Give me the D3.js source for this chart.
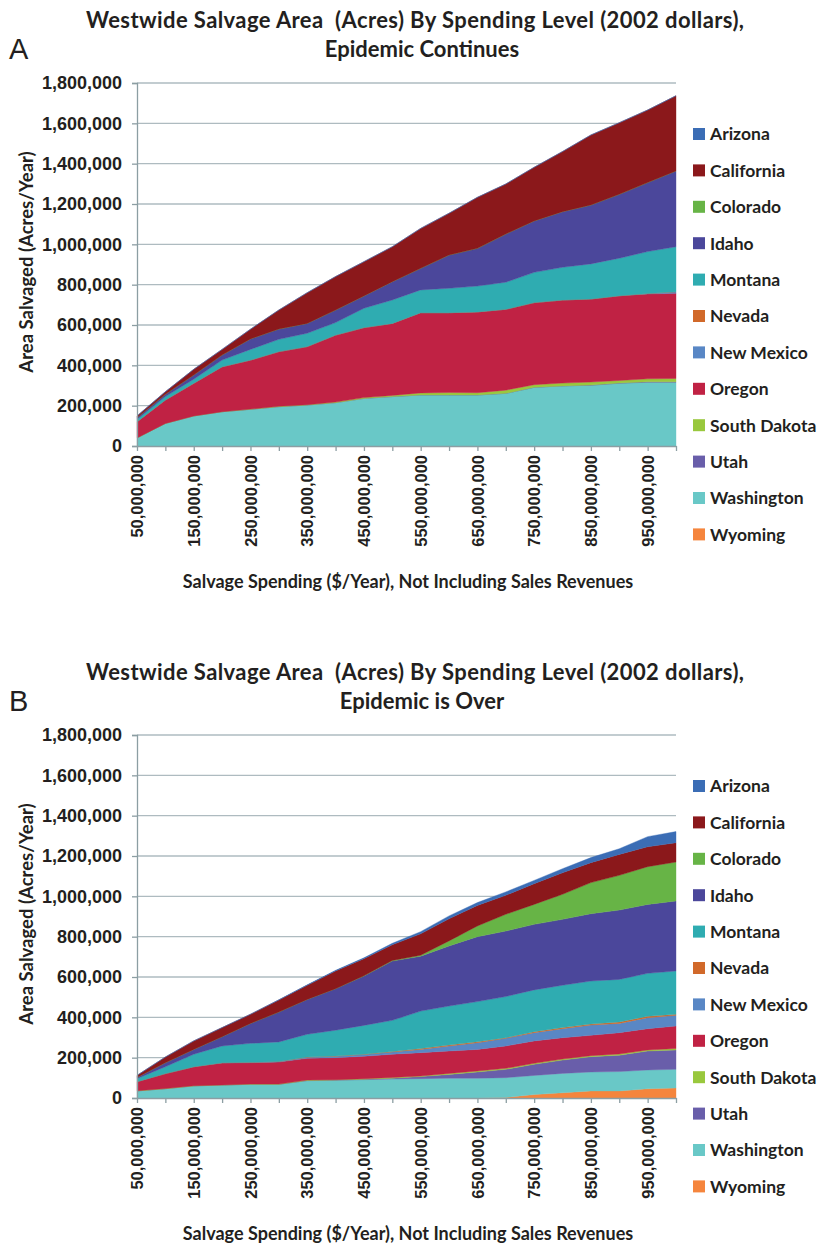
<!DOCTYPE html>
<html>
<head>
<meta charset="utf-8">
<script src="https://cdn.jsdelivr.net/npm/d3@7"></script>
<style>
  body { margin: 0; background: #fff; }
  svg { display: block; font-family: Lato, 'Open Sans', sans-serif; }
</style>
</head>
<body>
<div id="chart"></div>
<script>
// Salvage spending levels ($/year) on the x axis
const spendLevels = [50e6, 100e6, 150e6, 200e6, 250e6, 300e6, 350e6, 400e6, 450e6, 500e6,
                     550e6, 600e6, 650e6, 700e6, 750e6, 800e6, 850e6, 900e6, 950e6, 1000e6];
// y ticks, thousands of acres
const yTicks = [0, 200, 400, 600, 800, 1000, 1200, 1400, 1600, 1800];

const states = ['Arizona', 'California', 'Colorado', 'Idaho', 'Montana', 'Nevada',
                'New Mexico', 'Oregon', 'South Dakota', 'Utah', 'Washington', 'Wyoming'];
const stateColors = ['#3b6db5', '#8b181b', '#67b446', '#4b479b', '#2facb1', '#d1692a',
                     '#5987c5', '#c02244', '#99c83d', '#695eaa', '#69c8c7', '#f5853d'];

// Panel A - epidemic continues (thousand acres / year)
const aArizona     = [0,0,0,0,0,0,0,0,0,0,0,0,0,0,0,0,0,0,0,0];
const aCalifornia  = [9,13,28,28,48,94,152,166,170,173,198,207,253,248,266,298,347,355,360,373];
const aColorado    = [0,0,0,0,0,0,0,0,0,0,0,0,0,0,0,0,0,0,0,0];
const aIdaho       = [8,11,21,25,52,51,49,62,61,91,107,165,187,239,255,276,292,317,342,376];
const aMontana     = [12,17,20,33,53,61,66,62,96,116,113,121,128,134,150,162,174,186,208,223];
const aNevada      = [0,0,0,0,0,0,0,0,0,0,0,0,0,0,0,0,0,0,0,0];
const aNewMexico   = [0,0,0,0,0,0,0,0,0,0,0,0,0,0,0,0,0,0,2,8];
const aOregon      = [80,116,162,223,243,271,288,332,347,357,398,396,401,401,407,412,412,420,421,422];
const aSouthDakota = [0,0,0,0,1,2,2,3,4,6,10,12,11,16,13,14,15,13,15,17];
const aUtah        = [0,0,0,0,0,0,0,0,0,0,0,0,0,0,0,0,1,1,2,2];
const aWashington  = [40,112,149,170,182,195,203,215,236,245,253,253,253,261,291,298,301,311,316,316];
const aWyoming     = [0,0,0,0,0,0,0,0,0,0,0,0,0,0,0,0,0,0,0,0];

// Panel B - epidemic is over (thousand acres / year)
const bArizona     = [0,0,0,0,0,1,2,3,4,7,11,14,14,17,16,20,25,28,50,55];
const bCalifornia  = [10,28,42,45,45,60,70,88,85,78,106,110,102,94,103,107,99,104,99,96];
const bColorado    = [0,0,0,0,0,0,0,0,1,3,5,25,53,83,99,124,154,172,187,193];
const bIdaho       = [6,20,24,46,99,148,173,206,245,294,272,298,322,325,325,327,334,344,342,347];
const bMontana     = [15,34,62,83,94,97,113,128,143,155,186,193,199,204,207,210,213,211,213,215];
const bNevada      = [0,0,0,0,0,0,1,1,1,2,4,5,5,3,5,5,5,7,7,5];
const bNewMexico   = [0,0,0,1,2,3,5,7,9,11,16,25,33,38,41,45,51,46,54,53];
const bOregon      = [45,74,94,109,106,109,108,109,111,115,116,111,107,111,111,106,101,106,106,112];
const bSouthDakota = [1,1,1,1,1,1,2,2,3,4,3,5,5,5,5,5,5,6,5,7];
const bUtah        = [0,0,0,0,0,0,1,1,2,4,10,19,31,41,55,66,76,81,94,96];
const bWashington  = [35,46,60,64,68,68,86,88,91,94,96,98,98,98,95,96,94,96,93,92];
const bWyoming     = [0,0,0,0,0,0,0,0,0,0,0,0,0,3,17,26,35,35,46,50];

const panelA = [aArizona, aCalifornia, aColorado, aIdaho, aMontana, aNevada,
                aNewMexico, aOregon, aSouthDakota, aUtah, aWashington, aWyoming];
const panelB = [bArizona, bCalifornia, bColorado, bIdaho, bMontana, bNevada,
                bNewMexico, bOregon, bSouthDakota, bUtah, bWashington, bWyoming];

const W = 817, H = 1247;
const svg = d3.select('#chart').append('svg')
    .attr('width', W)
    .attr('height', H);

const fmt = d3.format(',');
const ink = '#231f20';

function drawPanel(series, top, letter, subtitle) {
    const plotLeft = 137, plotRight = 676;
    const plotTop = top + 83, plotBottom = top + 446;

    // Build rows for the stack
    const rows = spendLevels.map((s, i) => {
        const row = { spend: s };
        states.forEach((st, j) => { row[st] = series[j][i]; });
        return row;
    });

    const x = d3.scalePoint()
        .domain(spendLevels)
        .range([plotLeft, plotRight]);

    const y = d3.scaleLinear()
        .domain([0, 1800])
        .range([plotBottom, plotTop]);

    const color = d3.scaleOrdinal().domain(states).range(stateColors);

    const g = svg.append('g');

    // Panel letter
    g.append('text')
        .attr('x', 9)
        .attr('y', top + 59)
        .style('font-family', "'Liberation Sans', Arial, sans-serif")
        .style('font-size', '29px')
        .style('fill', ink)
        .text(letter);

    // Title
    const title = g.append('text')
        .attr('text-anchor', 'middle')
        .style('font-size', '22px')
        .style('font-weight', '700')
        .style('white-space', 'pre')
        .style('fill', ink);
    title.append('tspan').attr('x', 415).attr('y', top + 28)
        .attr('textLength', 658)
        .attr('lengthAdjust', 'spacing')
        .text('Westwide Salvage Area  (Acres) By Spending Level (2002 dollars),');
    title.append('tspan').attr('x', 422).attr('y', top + 57)
        .text(subtitle);

    // Grid lines
    g.append('g')
        .attr('class', 'grid')
        .selectAll('line')
        .data(yTicks.slice(1))
        .enter()
        .append('line')
        .attr('x1', plotLeft)
        .attr('x2', plotRight)
        .attr('y1', d => y(d))
        .attr('y2', d => y(d))
        .attr('stroke', '#aebbc0')
        .attr('stroke-width', 1.3);

    // Stacked areas, Wyoming at the bottom
    const stack = d3.stack().keys(states.slice().reverse());
    const layers = stack(rows);

    const area = d3.area()
        .x(d => x(d.data.spend))
        .y0(d => y(d[0]))
        .y1(d => y(d[1]));

    g.append('g')
        .selectAll('path')
        .data(layers)
        .enter()
        .append('path')
        .attr('d', area)
        .attr('fill', d => color(d.key))
        .attr('stroke', d => color(d.key))
        .attr('stroke-width', 0.4);

    // Y axis
    const yAxis = d3.axisLeft(y)
        .tickValues(yTicks)
        .tickSize(5)
        .tickPadding(10)
        .tickFormat(d => fmt(d * 1000));

    const yg = g.append('g')
        .attr('transform', `translate(${plotLeft},0)`)
        .call(yAxis);
    yg.select('.domain').attr('stroke', '#8c9ea3').attr('stroke-width', 1.3);
    yg.selectAll('.tick line').attr('stroke', '#8c9ea3').attr('stroke-width', 1.3);
    yg.selectAll('text')
        .style('font-size', '18px')
        .style('font-weight', '700')
        .style('fill', ink);

    // X axis
    const xAxis = d3.axisBottom(x)
        .tickSize(5)
        .tickSizeOuter(0)
        .tickFormat((d, i) => i % 2 === 0 ? fmt(d) : '');

    const xg = g.append('g')
        .attr('transform', `translate(0,${plotBottom})`)
        .call(xAxis);
    xg.select('.domain').attr('stroke', '#8c9ea3').attr('stroke-width', 1.3);
    xg.selectAll('.tick line').attr('stroke', '#8c9ea3').attr('stroke-width', 1.3);
    xg.selectAll('text')
        .attr('transform', 'rotate(-90)')
        .attr('x', -9)
        .attr('y', 0)
        .attr('dy', '0.35em')
        .style('text-anchor', 'end')
        .style('font-size', '16.5px')
        .style('font-weight', '700')
        .style('fill', ink);

    // Axis titles
    g.append('text')
        .attr('transform', `translate(27,${top + 262}) rotate(-90)`)
        .attr('dy', '0.35em')
        .attr('text-anchor', 'middle')
        .style('font-size', '18.5px')
        .style('font-weight', '700')
        .style('fill', ink)
        .text('Area Salvaged (Acres/Year)');

    g.append('text')
        .attr('x', 408)
        .attr('y', top + 588)
        .attr('text-anchor', 'middle')
        .style('font-size', '18px')
        .style('font-weight', '700')
        .style('fill', ink)
        .text('Salvage Spending ($/Year), Not Including Sales Revenues');

    // Legend
    const legend = g.append('g')
        .selectAll('g')
        .data(states)
        .enter()
        .append('g')
        .attr('transform', (d, i) => `translate(693,${top + 134 + i * 36.4})`);

    legend.append('rect')
        .attr('x', 0)
        .attr('y', -6)
        .attr('width', 12)
        .attr('height', 12)
        .attr('fill', d => color(d));

    legend.append('text')
        .attr('x', 17)
        .attr('dy', '0.36em')
        .style('font-size', '17.5px')
        .style('font-weight', '700')
        .style('fill', ink)
        .text(d => d);
}

drawPanel(panelA, 0, 'A', 'Epidemic Continues');
drawPanel(panelB, 652, 'B', 'Epidemic is Over');
</script>
</body>
</html>
